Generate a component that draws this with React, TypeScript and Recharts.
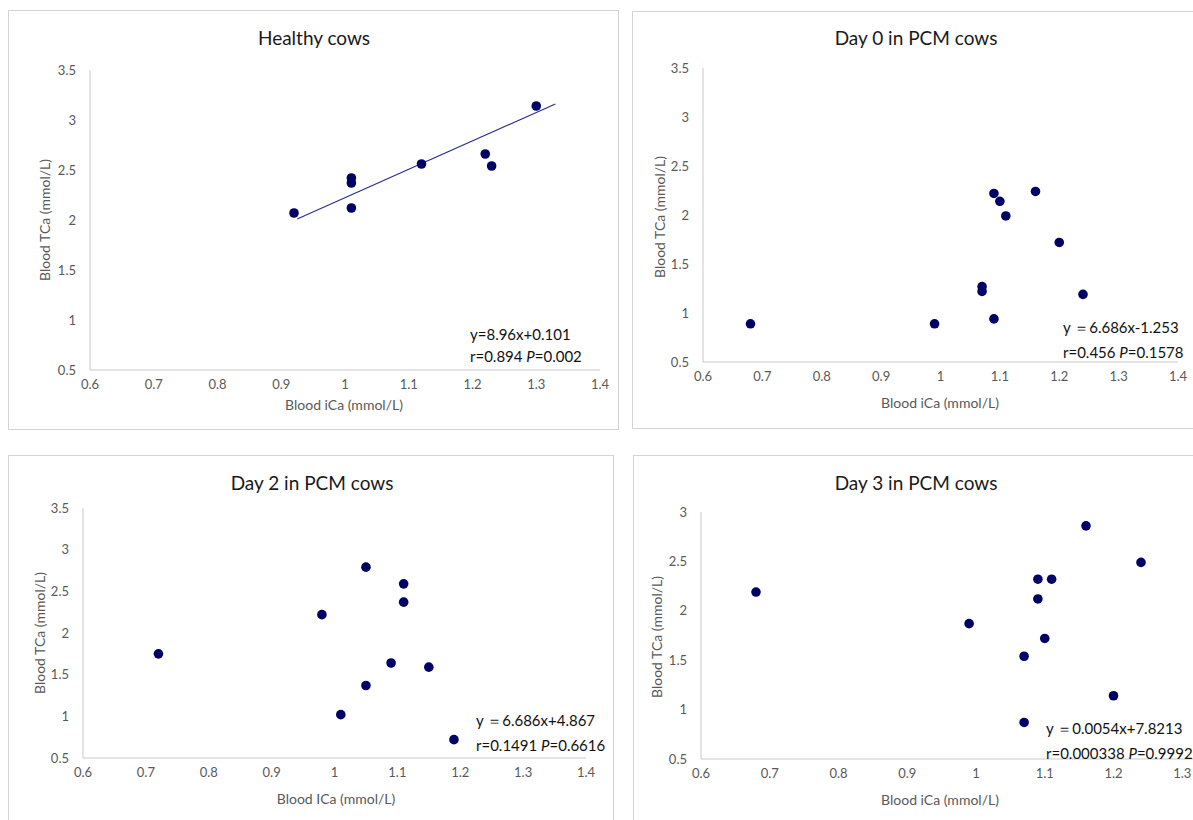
import React from "react";
import { ScatterChart, Scatter, XAxis, YAxis, ReferenceLine } from "recharts";

// values
const healthyICa = [0.92, 1.01, 1.01, 1.01, 1.12, 1.22, 1.23, 1.3];
const healthyTCa = [2.07, 2.42, 2.37, 2.12, 2.56, 2.66, 2.54, 3.14];
const healthyTrend = [
  { x: 0.925, y: 2.01 },
  { x: 1.33, y: 3.16 },
];

const day0ICa = [0.68, 0.99, 1.07, 1.07, 1.09, 1.09, 1.1, 1.11, 1.16, 1.2, 1.24];
const day0TCa = [0.89, 0.89, 1.27, 1.22, 0.94, 2.22, 2.14, 1.99, 2.24, 1.72, 1.19];

const day2ICa = [0.72, 0.98, 1.05, 1.11, 1.11, 1.09, 1.15, 1.05, 1.01, 1.19];
const day2TCa = [1.75, 2.22, 2.79, 2.59, 2.37, 1.64, 1.59, 1.37, 1.02, 0.72];

const day3ICa = [0.68, 0.99, 1.07, 1.07, 1.09, 1.11, 1.09, 1.1, 1.16, 1.2, 1.24];
const day3TCa = [2.19, 1.87, 1.54, 0.87, 2.32, 2.32, 2.12, 1.72, 2.86, 1.14, 2.49];

const xTicks = [0.6, 0.7, 0.8, 0.9, 1, 1.1, 1.2, 1.3, 1.4];
const xTicksCut = [0.6, 0.7, 0.8, 0.9, 1, 1.1, 1.2, 1.3];
const yTicks35 = [0.5, 1, 1.5, 2, 2.5, 3, 3.5];
const yTicks3 = [0.5, 1, 1.5, 2, 2.5, 3];

const FONT = "Lato, 'Open Sans', sans-serif";
const DOT = "#000066";
const GREY = "#595959";
const AXIS = "#c9c9c9";

const toPoints = (xs: number[], ys: number[]) => xs.map((x, i) => ({ x, y: ys[i] }));

const Dot = (props: any) => {
  const { cx, cy } = props;
  return <circle cx={cx} cy={cy} r={4.8} fill={DOT} />;
};

interface PanelProps {
  left: number;
  top: number;
  width: number;
  height: number;
  margin: { top: number; right: number; bottom: number; left: number };
  title: string;
  titleAt: [number, number];
  yLabel: string;
  yLabelAt: [number, number];
  xLabel: string;
  xLabelAt: [number, number];
  note1: React.ReactNode;
  note2: React.ReactNode;
  noteAt: [number, number, number];
  data: { x: number; y: number }[];
  xTicks: number[];
  yDomain: [number, number];
  yTicks: number[];
  trend?: { x: number; y: number }[];
}

const Panel = (p: PanelProps) => {
  const text: React.CSSProperties = {
    position: "absolute",
    whiteSpace: "nowrap",
    fontFamily: FONT,
    lineHeight: 1,
  };
  return (
    <>
      <div
        style={{
          position: "absolute",
          left: p.left,
          top: p.top,
          width: p.width,
          height: p.height,
          border: "1px solid #d4d4d4",
          boxSizing: "border-box",
        }}
      >
        <ScatterChart width={p.width - 2} height={p.height - 2} margin={p.margin}>
          <XAxis
            type="number"
            dataKey="x"
            domain={[0.6, 1.4]}
            ticks={p.xTicks}
            height={30}
            tickLine={false}
            tickSize={0}
            tickMargin={10}
            axisLine={{ stroke: AXIS }}
            tick={{ fill: GREY, fontSize: 13, fontFamily: FONT }}
          />
          <YAxis
            type="number"
            dataKey="y"
            domain={p.yDomain}
            ticks={p.yTicks}
            width={40}
            tickLine={false}
            tickSize={0}
            tickMargin={14}
            axisLine={{ stroke: AXIS }}
            tick={{ fill: GREY, fontSize: 13, fontFamily: FONT }}
          />
          {p.trend && (
            <ReferenceLine
              segment={p.trend}
              stroke="#2a2f8f"
              strokeWidth={1.2}
              ifOverflow="visible"
            />
          )}
          <Scatter data={p.data} fill={DOT} shape={<Dot />} isAnimationActive={false} />
        </ScatterChart>
      </div>
      <div
        style={{
          ...text,
          left: p.titleAt[0],
          top: p.titleAt[1],
          transform: "translate(-50%, -50%)",
          fontSize: 19,
          color: "#1a1a1a",
        }}
      >
        {p.title}
      </div>
      <div
        style={{
          ...text,
          left: p.yLabelAt[0],
          top: p.yLabelAt[1],
          transform: "translate(-50%, -50%) rotate(-90deg)",
          fontSize: 14,
          color: GREY,
        }}
      >
        {p.yLabel}
      </div>
      <div
        style={{
          ...text,
          left: p.xLabelAt[0],
          top: p.xLabelAt[1],
          transform: "translate(-50%, -50%)",
          fontSize: 14,
          color: GREY,
        }}
      >
        {p.xLabel}
      </div>
      <div
        style={{
          ...text,
          left: p.noteAt[0],
          top: p.noteAt[1],
          transform: "translateY(-50%)",
          fontSize: 15,
          color: "#111",
        }}
      >
        {p.note1}
      </div>
      <div
        style={{
          ...text,
          left: p.noteAt[0],
          top: p.noteAt[2],
          transform: "translateY(-50%)",
          fontSize: 15,
          color: "#111",
        }}
      >
        {p.note2}
      </div>
    </>
  );
};

const App = () => {
  return (
    <div
      style={{
        position: "absolute",
        left: 0,
        top: 0,
        width: 1193,
        height: 820,
        overflow: "hidden",
        background: "#fff",
      }}
    >
      <Panel
        left={8}
        top={10}
        width={611}
        height={420}
        margin={{ top: 59, right: 18, bottom: 29, left: 41 }}
        title="Healthy cows"
        titleAt={[314, 37]}
        yLabel="Blood TCa (mmol/L)"
        yLabelAt={[45, 220]}
        xLabel="Blood iCa (mmol/L)"
        xLabelAt={[344, 405]}
        note1="y=8.96x+0.101"
        note2={
          <>
            r=0.894 <i>P</i>=0.002
          </>
        }
        noteAt={[470, 334, 356]}
        data={toPoints(healthyICa, healthyTCa)}
        xTicks={xTicks}
        yDomain={[0.5, 3.5]}
        yTicks={yTicks35}
        trend={healthyTrend}
      />
      <Panel
        left={632}
        top={11}
        width={571}
        height={418}
        margin={{ top: 56, right: 24, bottom: 36, left: 30 }}
        title="Day 0 in PCM cows"
        titleAt={[916, 37]}
        yLabel="Blood TCa (mmol/L)"
        yLabelAt={[660, 217]}
        xLabel="Blood iCa (mmol/L)"
        xLabelAt={[940, 403]}
        note1="y ＝6.686x-1.253"
        note2={
          <>
            r=0.456 <i>P</i>=0.1578
          </>
        }
        noteAt={[1063, 327, 352]}
        data={toPoints(day0ICa, day0TCa)}
        xTicks={xTicks}
        yDomain={[0.5, 3.5]}
        yTicks={yTicks35}
      />
      <Panel
        left={8}
        top={455}
        width={606}
        height={375}
        margin={{ top: 52, right: 27, bottom: 41, left: 34 }}
        title="Day 2 in PCM cows"
        titleAt={[312, 482]}
        yLabel="Blood TCa (mmol/L)"
        yLabelAt={[40, 633]}
        xLabel="Blood ICa (mmol/L)"
        xLabelAt={[336, 799]}
        note1="y ＝6.686x+4.867"
        note2={
          <>
            r=0.1491 <i>P</i>=0.6616
          </>
        }
        noteAt={[476, 720, 745]}
        data={toPoints(day2ICa, day2TCa)}
        xTicks={xTicks}
        yDomain={[0.5, 3.5]}
        yTicks={yTicks35}
      />
      <Panel
        left={633}
        top={455}
        width={660}
        height={375}
        margin={{ top: 56, right: 41, bottom: 40, left: 27 }}
        title="Day 3 in PCM cows"
        titleAt={[916, 482]}
        yLabel="Blood TCa (mmol/L)"
        yLabelAt={[657, 637]}
        xLabel="Blood iCa (mmol/L)"
        xLabelAt={[940, 800]}
        note1="y ＝0.0054x+7.8213"
        note2={
          <>
            r=0.000338 <i>P</i>=0.9992
          </>
        }
        noteAt={[1046, 728, 753]}
        data={toPoints(day3ICa, day3TCa)}
        xTicks={xTicksCut}
        yDomain={[0.5, 3]}
        yTicks={yTicks3}
      />
    </div>
  );
};

export default App;
